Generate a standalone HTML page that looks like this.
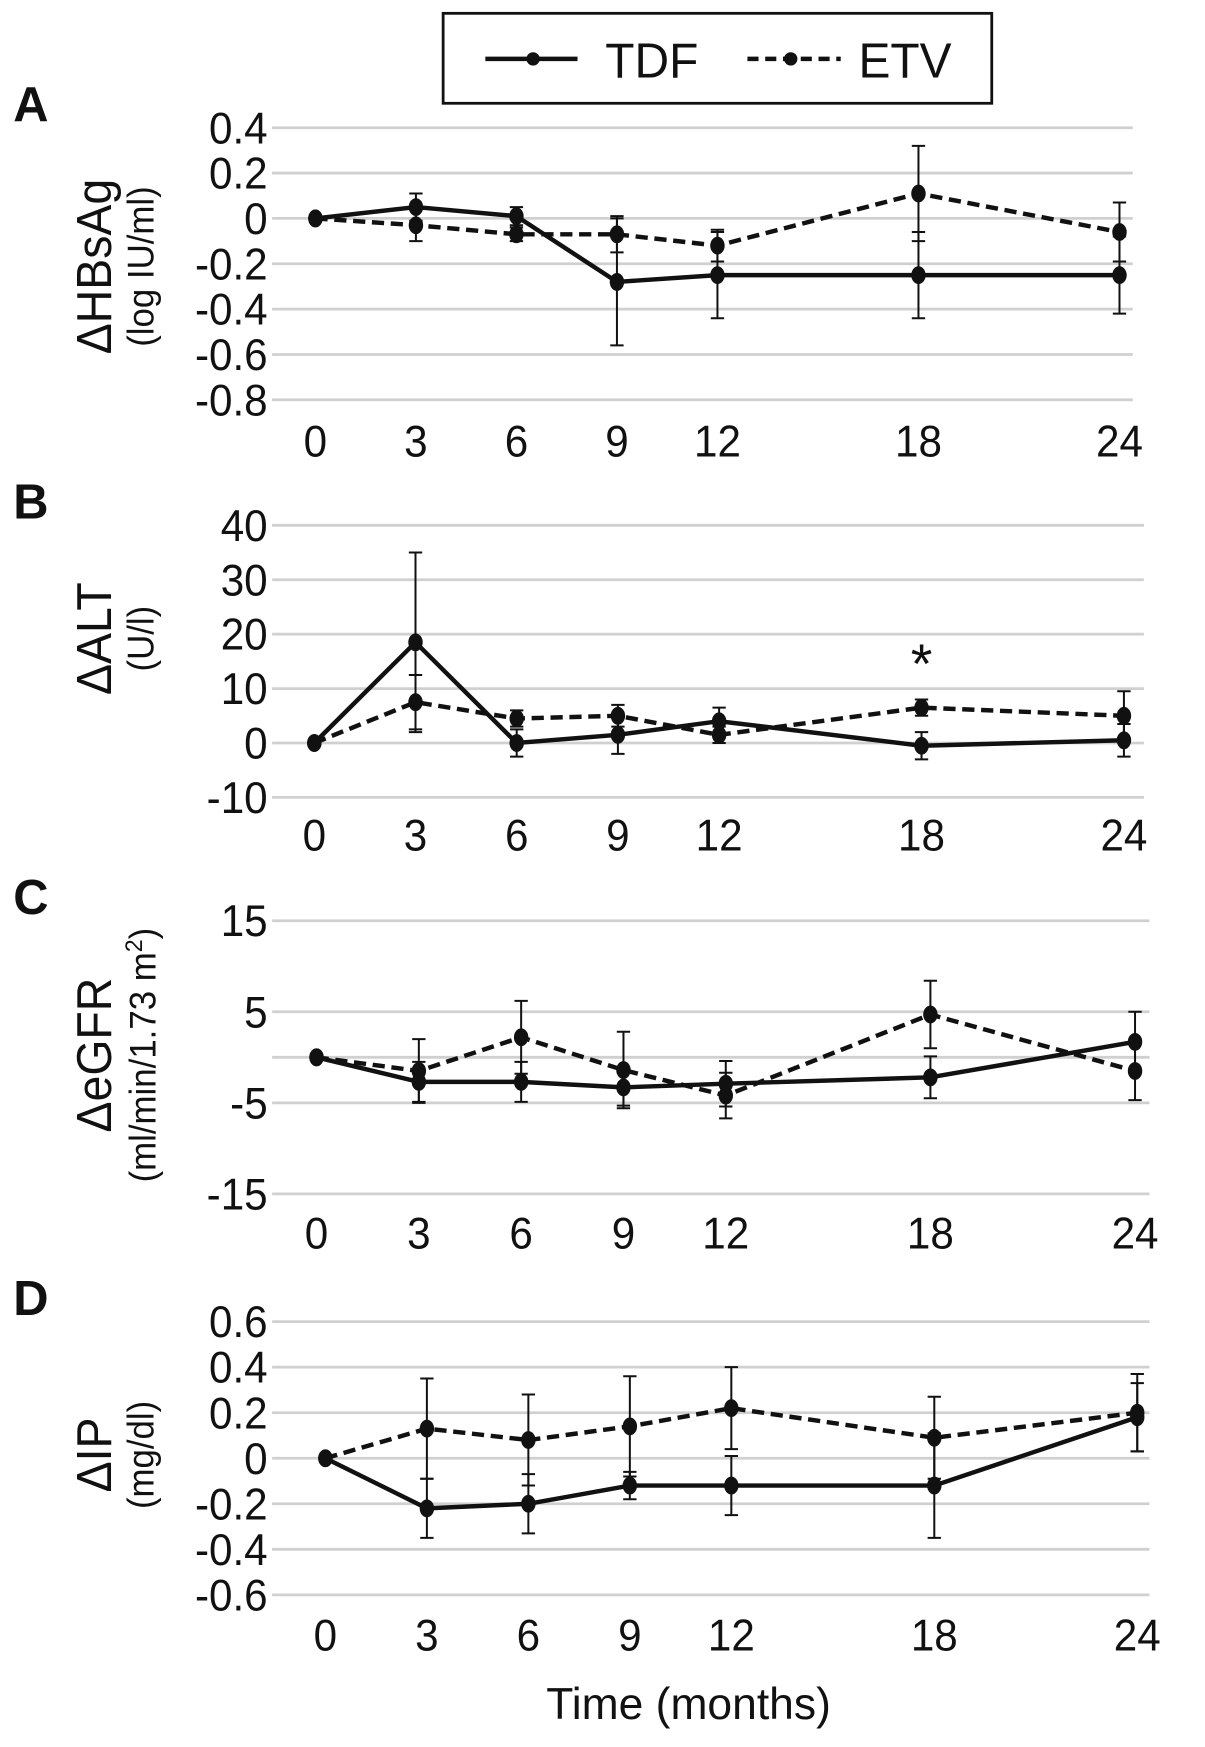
<!DOCTYPE html>
<html><head><meta charset="utf-8"><style>
html,body{margin:0;padding:0;background:#fff}
svg{display:block}
text{font-family:"Liberation Sans",sans-serif;fill:#111}
</style></head><body>
<svg id="fig" width="1205" height="1747" viewBox="0 0 1085 1573" preserveAspectRatio="none" xmlns="http://www.w3.org/2000/svg">
<g>
<rect x="399" y="12" width="494" height="81" fill="#fff" stroke="#111" stroke-width="2.5"/>
<line x1="437" y1="53" x2="520" y2="53" stroke="#111" stroke-width="4"/>
<circle cx="480" cy="53" r="6" fill="#111"/>
<text font-size="44" transform="translate(545,70) scale(0.98,1)">TDF</text>
<line x1="673" y1="53" x2="757" y2="53" stroke="#111" stroke-width="4" stroke-dasharray="10,6"/>
<circle cx="712" cy="53" r="6" fill="#111"/>
<text font-size="44" transform="translate(773,70) scale(0.98,1)">ETV</text>
</g>
<text font-size="40" text-anchor="middle" transform="translate(620,1548) scale(1.0,1)">Time (months)</text>
</svg>
<script>
const months = [0, 3, 6, 9, 12, 18, 24];
const aTicks = ["0.4","0.2","0","-0.2","-0.4","-0.6","-0.8"];
const aTickVals = [0.4,0.2,0,-0.2,-0.4,-0.6,-0.8];
const aTDF = [0, 0.05, 0.01, -0.28, -0.25, -0.25, -0.25];
const aTDFerr = [0, 0.06, 0.04, 0.28, 0.19, 0.19, 0.17];
const aETV = [0, -0.03, -0.07, -0.07, -0.12, 0.11, -0.06];
const aETVerr = [0, 0.07, 0.03, 0.08, 0.07, 0.21, 0.13];
const bTicks = ["40","30","20","10","0","-10"];
const bTickVals = [40,30,20,10,0,-10];
const bTDF = [0, 18.5, 0, 1.5, 4, -0.5, 0.5];
const bTDFerr = [0, 16.5, 2.5, 3.5, 2.5, 2.5, 3];
const bETV = [0, 7.5, 4.5, 5, 1.5, 6.5, 5];
const bETVerr = [0, 5, 1.5, 2, 1.5, 1.5, 4.5];
const cTicks = ["15","","5","","-5","","-15"];
const cTickVals = [15,null,5,0,-5,null,-15];
const cTDF = [0, -2.7, -2.7, -3.3, -2.9, -2.2, 1.7];
const cTDFerr = [0, 2.2, 2.2, 2, 2.5, 2.3, 3.3];
const cETV = [0, -1.5, 2.2, -1.4, -4.2, 4.7, -1.5];
const cETVerr = [0, 3.5, 4, 4.2, 2.5, 3.7, 3.2];
const dTicks = ["0.6","0.4","0.2","0","-0.2","-0.4","-0.6"];
const dTickVals = [0.6,0.4,0.2,0,-0.2,-0.4,-0.6];
const dTDF = [0, -0.22, -0.2, -0.12, -0.12, -0.12, 0.18];
const dTDFerr = [0, 0.13, 0.13, 0.06, 0.13, 0.23, 0.15];
const dETV = [0, 0.13, 0.08, 0.14, 0.22, 0.09, 0.2];
const dETVerr = [0, 0.22, 0.2, 0.22, 0.18, 0.18, 0.17];

const NS = "http://www.w3.org/2000/svg";
const svg = document.getElementById('fig');
function mk(tag, at, parent){const e=document.createElementNS(NS,tag);for(const k in at)e.setAttribute(k,at[k]);(parent||svg).appendChild(e);return e;}

function panel(cfg){
  const g = mk('g',{});
  
  
  const xs = m => cfg.x0 + (cfg.x24-cfg.x0)*m/24;
  const ys = v => cfg.yTop + (cfg.yBot-cfg.yTop)*(cfg.vTop-v)/(cfg.vTop-cfg.vBot);
  cfg.tickVals.forEach((v,i)=>{
    if(v===null) return;
    const gl = mk('line',{x1:245,x2:cfg.gx2,y1:ys(v),y2:ys(v),stroke:'#d0d0d0','stroke-width':2.5},g);
    
    
    if(cfg.ticks[i]!==''){
      const t = mk('text',{'font-size':40,'text-anchor':'end',transform:`translate(241,${ys(v)+14}) scale(0.95,1)`},g);
      t.textContent = cfg.ticks[i];
      
      
    }
  });
  months.forEach(m=>{
    const t = mk('text',{'font-size':40,'text-anchor':'middle',transform:`translate(${xs(m)},${cfg.xLabY}) scale(0.95,1)`},g);
    t.textContent = String(m);
    
    
  });
  const L = mk('text',{x:12,y:cfg.yTop-6,'font-size':44,'font-weight':'bold'},g);
  L.textContent = cfg.letter;
  
  
  const yc = cfg.titleY;
  const t1 = mk('text',{x:0,y:0,'font-size':44,'text-anchor':'middle',transform:`translate(${cfg.t1x},${yc}) rotate(-90) scale(0.95,1)`},g);
  t1.textContent = cfg.title1;
  
  
  const t2 = mk('text',{x:0,y:0,'font-size':33,'text-anchor':'middle',transform:`translate(${cfg.t2x},${yc}) rotate(-90) scale(0.95,1)`},g);
  t2.innerHTML = cfg.title2;
  
  
  [[cfg.etv,cfg.etvErr,'etv','11,6'],[cfg.tdf,cfg.tdfErr,'tdf',null]].forEach(([vals,errs,name,dash])=>{
    errs.forEach((e,i)=>{
      if(!e) return;
      const x=xs(months[i]), y1=ys(vals[i]+e), y2=ys(vals[i]-e);
      const eb = mk('path',{d:`M${x},${y1}V${y2}M${x-6},${y1}H${x+6}M${x-6},${y2}H${x+6}`,stroke:'#111','stroke-width':1.8,fill:'none'},g);
      
      
    });
    const pts = vals.map((v,i)=>xs(months[i])+','+ys(v)).join(' ');
    const at = {points:pts,fill:'none',stroke:'#111','stroke-width':4};
    if(dash) at['stroke-dasharray']=dash;
    const pl = mk('polyline',at,g);
    
    
    vals.forEach((v,i)=>{
      const c = mk('ellipse',{cx:xs(months[i]),cy:ys(v),rx:6.5,ry:8,fill:'#111'},g);
      
      
    });
  });
  return {g,xs,ys};
}

panel({letter:'A',x0:284,x24:1008,gx2:1020,yTop:115,yBot:360,vTop:0.4,vBot:-0.8,xLabY:411,
  ticks:aTicks,tickVals:aTickVals,tdf:aTDF,tdfErr:aTDFerr,etv:aETV,etvErr:aETVerr,
  title1:'ΔHBsAg',title2:'(log IU/ml)',t1x:100,t2x:138,titleY:240});
const pb = panel({letter:'B',x0:283,x24:1012,gx2:1030,yTop:473,yBot:718,vTop:40,vBot:-10,xLabY:766,
  ticks:bTicks,tickVals:bTickVals,tdf:bTDF,tdfErr:bTDFerr,etv:bETV,etvErr:bETVerr,
  title1:'ΔALT',title2:'(U/l)',t1x:100,t2x:138,titleY:575});
const ast = mk('text',{x:pb.xs(18),y:pb.ys(18)+34,'font-size':50,'text-anchor':'middle','font-family':'Liberation Serif'},pb.g);
ast.textContent='*';


panel({letter:'C',x0:285,x24:1022,gx2:1035,yTop:829,yBot:1075,vTop:15,vBot:-15,xLabY:1124,
  ticks:cTicks,tickVals:cTickVals,tdf:cTDF,tdfErr:cTDFerr,etv:cETV,etvErr:cETVerr,
  title1:'ΔeGFR',title2:'(ml/min/1.73 m<tspan baseline-shift="super" font-size="22">2</tspan>)',t1x:100,t2x:140,titleY:950});
panel({letter:'D',x0:293,x24:1024,gx2:1035,yTop:1190,yBot:1436,vTop:0.6,vBot:-0.6,xLabY:1486,
  ticks:dTicks,tickVals:dTickVals,tdf:dTDF,tdfErr:dTDFerr,etv:dETV,etvErr:dETVerr,
  title1:'ΔIP',title2:'(mg/dl)',t1x:100,t2x:138,titleY:1310});
</script>
</body></html>
